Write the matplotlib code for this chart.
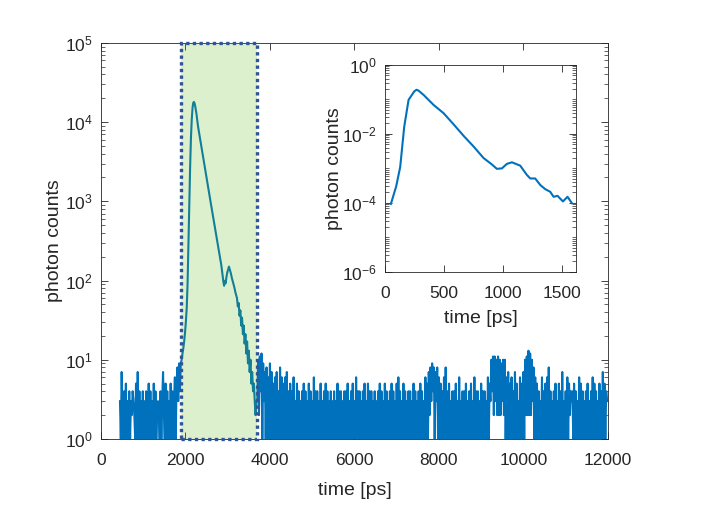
import numpy as np
import matplotlib
matplotlib.use('Agg')
import matplotlib.pyplot as plt
from matplotlib.patches import Rectangle
from matplotlib.ticker import LogLocator, NullFormatter

plt.rcParams['font.family'] = ['Liberation Sans', 'DejaVu Sans']

BIN = 20  # ps per background bin

# background counts before the pulse window (one hex digit per bin, from 450 ps)
BG_BEFORE_T0 = 450
BG_BEFORE = ("31721415131413" "2432" "151714131413141"
             "151413151412321413" "721514131514136158394")

# pulse inside the selection window
PULSE_T = [1890, 1910, 1930, 1950, 1970, 1990, 2010, 2030, 2050, 2070,
           2090, 2110, 2130, 2150, 2170, 2185, 2200, 2215, 2235, 2260,
           2300, 2350, 2400, 2450, 2500, 2550, 2600, 2650, 2700, 2750,
           2800, 2850, 2880, 2900, 2915, 2930, 2950, 2970, 2990, 3010,
           3030, 3045, 3060, 3080, 3100, 3120, 3140, 3160, 3180, 3200,
           3220, 3240, 3260, 3280, 3300, 3320, 3340, 3360, 3380, 3400,
           3420, 3440, 3460, 3480, 3500, 3520, 3540, 3560, 3580, 3600,
           3620, 3640, 3660, 3680]
PULSE_V = [9, 10, 12, 14, 17, 22, 30, 45, 90, 280,
           900, 2600, 6300, 11000, 15500, 17500, 18000, 17300, 15500, 12800,
           8700, 6000, 4200, 2900, 2000, 1380, 950, 660, 460, 320,
           225, 155, 115, 95, 86, 99, 92, 110, 126, 138,
           150, 141, 132, 120, 107, 98, 89, 81, 72, 66,
           60, 47, 52, 36, 42, 27, 34, 21, 27, 16,
           21, 12, 17, 9, 13, 7, 10, 5, 7, 4,
           5, 3, 2, 3]

# background counts after the pulse window (one hex digit per bin, from 3700 ps)
BG_AFTER_T0 = 3700
BG_AFTER = ("3a2b4c1937" "1816191715" "1617141816" "1516171415" "1416131514"
            "1314151413" "1514131614" "1413151314" "1514131413" "1413151414"
            "1314141513" "1415131614" "1413141513" "1514141314" "1314151413"
            "1514131415" "1413151614" "1315141314" "1413151413" "1415141316"
            "1517283948" "1738161514" "1618141513" "1414151316" "1314141513"
            "1415131614" "1413151414" "1316153a4b" "2b3a2b2a29" "3a2a161715"
            "1614171513" "1615171a2b" "2d2c2a3816" "1514131614" "1516181413"
            "1415131514" "1713141615" "2434151413" "1615141314" "1513141615"
            "1413151417" "15143")

WINDOW = (1890, 3690)

# inset: normalised decay
INSET_T = [48, 93, 127, 161, 198, 246, 265, 282, 325, 410, 494, 579, 664,
           749, 833, 904, 946, 989, 1031, 1074, 1144, 1200, 1229, 1271,
           1314, 1356, 1398, 1427, 1460, 1506, 1545, 1582]
INSET_V = [9.3e-5, 3e-4, 1.1e-3, 0.016, 0.097, 0.17, 0.19, 0.18, 0.135,
           0.069, 0.040, 0.019, 8.8e-3, 4.3e-3, 2e-3, 1.3e-3, 9.7e-4, 1e-3,
           1.35e-3, 1.5e-3, 1.2e-3, 6.5e-4, 5.1e-4, 5.1e-4, 3.3e-4, 2.5e-4,
           2.1e-4, 1.5e-4, 1.6e-4, 1.1e-4, 1.5e-4, 9.8e-5]

BLUE = '#0072BD'
INK = '#262626'

before_v = np.array([int(c, 16) for c in BG_BEFORE], dtype=float)
before_t = BG_BEFORE_T0 + BIN * np.arange(len(before_v))
after_v = np.array([int(c, 16) for c in BG_AFTER], dtype=float)
after_t = BG_AFTER_T0 + BIN * np.arange(len(after_v))
t = np.concatenate([before_t, PULSE_T, after_t])
counts = np.concatenate([before_v, PULSE_V, after_v])

fig = plt.figure(figsize=(7.16, 5.11), dpi=100)
ax = fig.add_axes([0.141, 0.141, 0.708, 0.775])
ax.plot(t, counts, color=BLUE, lw=1.5, zorder=2)
ax.set_yscale('log')
ax.set_xlim(0, 12000)
ax.set_ylim(1, 1e5)

rect = Rectangle((WINDOW[0], 1), WINDOW[1] - WINDOW[0], 1e5 - 1,
                 facecolor=(0.35, 0.71, 0.02), alpha=0.2, edgecolor='none',
                 zorder=3)
ax.add_patch(rect)
edge = Rectangle((WINDOW[0], 1), WINDOW[1] - WINDOW[0], 1e5 - 1,
                 facecolor='none', edgecolor='#2F5597', lw=2.4,
                 linestyle=(0, (1, 1)), zorder=4, clip_on=False)
ax.add_patch(edge)

ax.set_xticks(np.arange(0, 12001, 2000))
ax.yaxis.set_major_locator(LogLocator(base=10, numticks=10))
ax.yaxis.set_minor_locator(LogLocator(base=10, subs=np.arange(2, 10), numticks=20))
ax.yaxis.set_minor_formatter(NullFormatter())

# inset
ins = fig.add_axes([0.538, 0.468, 0.267, 0.405])
ins.plot(INSET_T, INSET_V, color=BLUE, lw=1.5)
ins.set_yscale('log')
ins.set_xlim(0, 1620)
ins.set_ylim(1e-6, 1)
ins.set_xticks([0, 500, 1000, 1500])
ins.set_yticks([1e-6, 1e-4, 1e-2, 1])
ins.yaxis.set_minor_locator(LogLocator(base=10, subs=np.arange(1, 10), numticks=30))
ins.yaxis.set_minor_formatter(NullFormatter())

for a in (ax, ins):
    a.tick_params(which='both', direction='in', top=True, right=True,
                  colors=INK, labelsize=12.5)
    a.tick_params(which='major', length=5, width=0.6)
    a.tick_params(which='minor', length=3, width=0.5)
    a.tick_params(axis='x', pad=10)
    a.tick_params(axis='y', pad=6)
    for s in a.spines.values():
        s.set_color(INK)
        s.set_linewidth(0.6)

ax.set_xlabel('time [ps]', fontsize=14, color=INK, labelpad=10)
ax.set_ylabel('photon counts', fontsize=14, color=INK, labelpad=1)
ins.set_xlabel('time [ps]', fontsize=14, color=INK, labelpad=7)
ins.set_ylabel('photon counts', fontsize=14, color=INK, labelpad=-1)

fig.savefig('out.png', dpi=100)
